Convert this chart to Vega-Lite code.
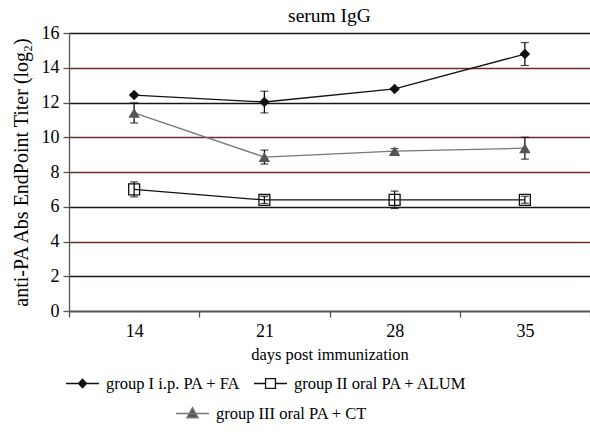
{
  "$schema": "https://vega.github.io/schema/vega-lite/v6.json",
  "width": 521,
  "height": 278,
  "padding": {"left": 69, "top": 33, "right": 0, "bottom": 121},
  "autosize": {"type": "none"},
  "background": "white",
  "title": {"text": "serum IgG", "font": "Liberation Serif", "fontSize": 19.5, "fontWeight": "normal", "color": "black", "offset": -2},
  "config": {
    "font": "Liberation Serif",
    "view": {"stroke": null},
    "axis": {"labelFont": "Liberation Serif", "titleFont": "Liberation Serif", "labelFontSize": 18, "titleFontSize": 16.5, "titleFontWeight": "normal", "labelColor": "black", "titleColor": "black", "domainColor": "#555", "tickColor": "#555", "domainWidth": 1.3, "tickWidth": 1.3},
    "legend": {"labelFont": "Liberation Serif", "labelFontSize": 16.5, "labelColor": "black", "labelLimit": 0}
  },
  "data": {"values": [
    {"day": "14", "group": "group I i.p. PA + FA", "value": 12.43, "lo": 12.38, "hi": 12.48},
    {"day": "21", "group": "group I i.p. PA + FA", "value": 12.03, "lo": 11.4, "hi": 12.65},
    {"day": "28", "group": "group I i.p. PA + FA", "value": 12.78, "lo": 12.73, "hi": 12.83},
    {"day": "35", "group": "group I i.p. PA + FA", "value": 14.79, "lo": 14.13, "hi": 15.45},
    {"day": "14", "group": "group II oral PA + ALUM", "value": 7.0, "lo": 6.57, "hi": 7.43},
    {"day": "21", "group": "group II oral PA + ALUM", "value": 6.39, "lo": 6.19, "hi": 6.59},
    {"day": "28", "group": "group II oral PA + ALUM", "value": 6.4, "lo": 5.9, "hi": 6.9},
    {"day": "35", "group": "group II oral PA + ALUM", "value": 6.4, "lo": 6.2, "hi": 6.6},
    {"day": "14", "group": "group III oral PA + CT", "value": 11.4, "lo": 10.82, "hi": 11.98},
    {"day": "21", "group": "group III oral PA + CT", "value": 8.86, "lo": 8.46, "hi": 9.26},
    {"day": "28", "group": "group III oral PA + CT", "value": 9.2, "lo": 9.05, "hi": 9.35},
    {"day": "35", "group": "group III oral PA + CT", "value": 9.37, "lo": 8.74, "hi": 10.0}
  ]},
  "encoding": {
    "x": {"field": "day", "type": "ordinal", "bandPosition": 0.5,
      "scale": {"type": "band", "paddingInner": 0, "paddingOuter": 0},
      "axis": {"title": "days post immunization", "labelAngle": 0, "tickBand": "extent", "tickSize": 6, "labelPadding": 5, "titlePadding": 6, "grid": false}}
  },
  "layer": [
    {
      "mark": {"type": "rule", "color": "black", "strokeWidth": 1.2},
      "encoding": {
        "y": {"field": "lo", "type": "quantitative", "scale": {"domain": [0, 16], "nice": false},
          "axis": {"title": "anti-PA Abs EndPoint Titer (log₂)", "titleFontSize": 20, "values": [0,2,4,6,8,10,12,14,16], "tickCount": 12, "labelOverlap": false, "tickSize": 6, "labelPadding": 4, "titlePadding": 10,
            "grid": true, "gridWidth": 1.6, "gridOpacity": 1,
            "gridColor": {"condition": {"test": "datum.value == 4 || datum.value == 8 || datum.value == 10 || datum.value == 14", "value": "#6e2b2b"}, "value": "#1e1414"}}},
        "y2": {"field": "hi"}
      }
    },
    {
      "mark": {"type": "tick", "thickness": 1.2, "size": 8, "color": "black"},
      "encoding": {"y": {"field": "lo", "type": "quantitative"}}
    },
    {
      "mark": {"type": "tick", "thickness": 1.2, "size": 8, "color": "black"},
      "encoding": {"y": {"field": "hi", "type": "quantitative"}}
    },
    {
      "transform": [{"filter": "datum.group != 'group III oral PA + CT'"}],
      "mark": {"type": "line", "strokeWidth": 1.3},
      "encoding": {
        "y": {"field": "value", "type": "quantitative"},
        "color": {"field": "group", "type": "nominal",
          "scale": {"domain": ["group I i.p. PA + FA", "group II oral PA + ALUM"], "range": ["#111111", "#111111"]},
          "legend": {"title": null, "orient": "none", "legendX": -4, "legendY": 333, "direction": "horizontal", "columns": 2, "columnPadding": 10, "symbolSize": 1089, "labelOffset": 6,
            "encode": {"symbols": {"update": {
              "shape": {"signal": "datum.value == 'group I i.p. PA + FA' ? 'M-1,0H1M0,-0.26L0.24,0L0,0.26L-0.24,0Z' : 'M-1,0H-0.3M0.3,0H1M-0.3,-0.3H0.3V0.3H-0.3Z'"},
              "fill": {"signal": "datum.value == 'group I i.p. PA + FA' ? '#111' : 'transparent'"},
              "stroke": {"value": "#111"},
              "strokeWidth": {"value": 1.3},
              "size": {"value": 1089},
              "opacity": {"value": 1}
            }}}}
        }
      }
    },
    {
      "transform": [{"filter": "datum.group == 'group III oral PA + CT'"}],
      "mark": {"type": "line", "strokeWidth": 1.3},
      "encoding": {
        "y": {"field": "value", "type": "quantitative"},
        "color": {"field": "group", "type": "nominal",
          "scale": {"domain": ["group III oral PA + CT"], "range": ["#777777"]},
          "legend": {"title": null, "orient": "none", "legendX": 106, "legendY": 363, "symbolSize": 1089, "labelOffset": 6,
            "encode": {"symbols": {"update": {
              "shape": {"value": "M-1,0H1M0,-0.36L0.34,0.26H-0.34Z"},
              "fill": {"value": "#555"},
              "stroke": {"value": "#666"},
              "strokeWidth": {"value": 1.3},
              "size": {"value": 1089},
              "opacity": {"value": 1}
            }}}}
        }
      }
    },
    {
      "transform": [{"filter": "datum.group == 'group I i.p. PA + FA'"}],
      "mark": {"type": "point", "shape": "diamond", "filled": true, "color": "#111", "opacity": 1, "size": 110},
      "encoding": {"y": {"field": "value", "type": "quantitative"}}
    },
    {
      "transform": [{"filter": "datum.group == 'group II oral PA + ALUM'"}],
      "mark": {"type": "point", "shape": "square", "filled": false, "stroke": "#111", "fill": "transparent", "strokeWidth": 1.3, "opacity": 1, "size": 120},
      "encoding": {"y": {"field": "value", "type": "quantitative"}}
    },
    {
      "transform": [{"filter": "datum.group == 'group III oral PA + CT'"}],
      "mark": {"type": "point", "shape": "triangle-up", "filled": true, "color": "#555", "opacity": 1, "size": 130},
      "encoding": {"y": {"field": "value", "type": "quantitative"}}
    }
  ],
  "resolve": {"scale": {"color": "independent"}, "legend": {"color": "independent"}}
}
